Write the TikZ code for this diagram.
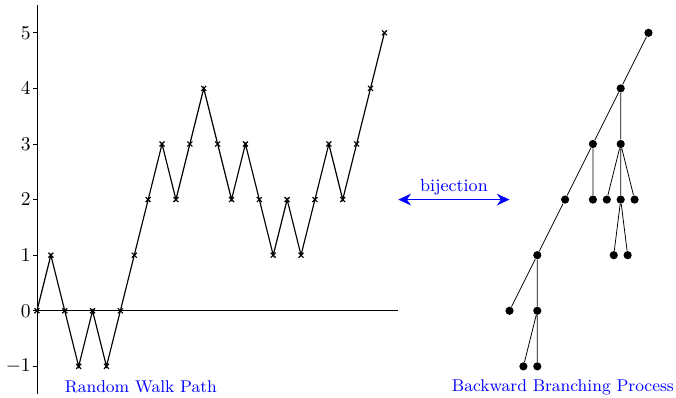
\documentclass[tikz,border=0pt]{standalone}
\usetikzlibrary{arrows.meta}
\begin{document}
\begin{tikzpicture}[x=1cm,y=1cm,
  dotnode/.style={circle,fill=black,inner sep=0pt,minimum size=4.2pt},
  edge/.style={draw=black,thin},
  caption/.style={text=blue,font=\fontsize{8.7}{10}\selectfont}]
\useasboundingbox (-0.665,-1.565) rectangle (11.495,5.59);
% axes
\draw[thin] (0,-1.5) -- (0,5.5);
\draw[thin] (0,0) -- (6.5,0);
\foreach \y in {-1,0,1,2,3,4,5}
  \draw[thin] (-0.07,\y) -- (0,\y) node[left,inner sep=2pt,xshift=-1pt] {$\y$};
% random walk
\draw[semithick,mark=x,mark size=1.8pt] plot coordinates {
(0,0) (0.25,1) (0.5,0) (0.75,-1) (1,0) (1.25,-1) (1.5,0) (1.75,1) (2,2) (2.25,3)
(2.5,2) (2.75,3) (3,4) (3.25,3) (3.5,2) (3.75,3) (4,2) (4.25,1) (4.5,2) (4.75,1)
(5,2) (5.25,3) (5.5,2) (5.75,3) (6,4) (6.25,5)};
% bijection arrow
\coordinate (bl) at (6.5,2);
\coordinate (br) at (8.5,2);
\draw[blue,semithick,{Stealth[length=6.5pt,width=6pt]}-{Stealth[length=6.5pt,width=6pt]}] (bl) -- node[above,font=\small,inner sep=1pt,yshift=1pt] {bijection} (br);
% tree
\node[dotnode] (r) at (11,5) {};
\node[dotnode] (a) at (10.5,4) {};
\node[dotnode] (b1) at (10,3) {};
\node[dotnode] (b2) at (10.5,3) {};
\node[dotnode] (c1) at (9.5,2) {};
\node[dotnode] (c2) at (10,2) {};
\node[dotnode] (c3) at (10.25,2) {};
\node[dotnode] (c4) at (10.5,2) {};
\node[dotnode] (c5) at (10.75,2) {};
\node[dotnode] (d1) at (9,1) {};
\node[dotnode] (d2) at (10.375,1) {};
\node[dotnode] (d3) at (10.625,1) {};
\node[dotnode] (e1) at (8.5,0) {};
\node[dotnode] (e2) at (9,0) {};
\node[dotnode] (f1) at (8.75,-1) {};
\node[dotnode] (f2) at (9,-1) {};
\draw[edge] (r)--(a) (a)--(b1) (a)--(b2) (b1)--(c1) (b1)--(c2)
  (b2)--(c3) (b2)--(c4) (b2)--(c5) (c1)--(d1) (c4)--(d2) (c4)--(d3)
  (d1)--(e1) (d1)--(e2) (e2)--(f1) (e2)--(f2);
% captions
\node[caption] (cap1) at (1.87,-1.37) {Random Walk Path};
\node[caption] (cap2) at (9.46,-1.37) {Backward Branching Process};
\end{tikzpicture}
\end{document}
